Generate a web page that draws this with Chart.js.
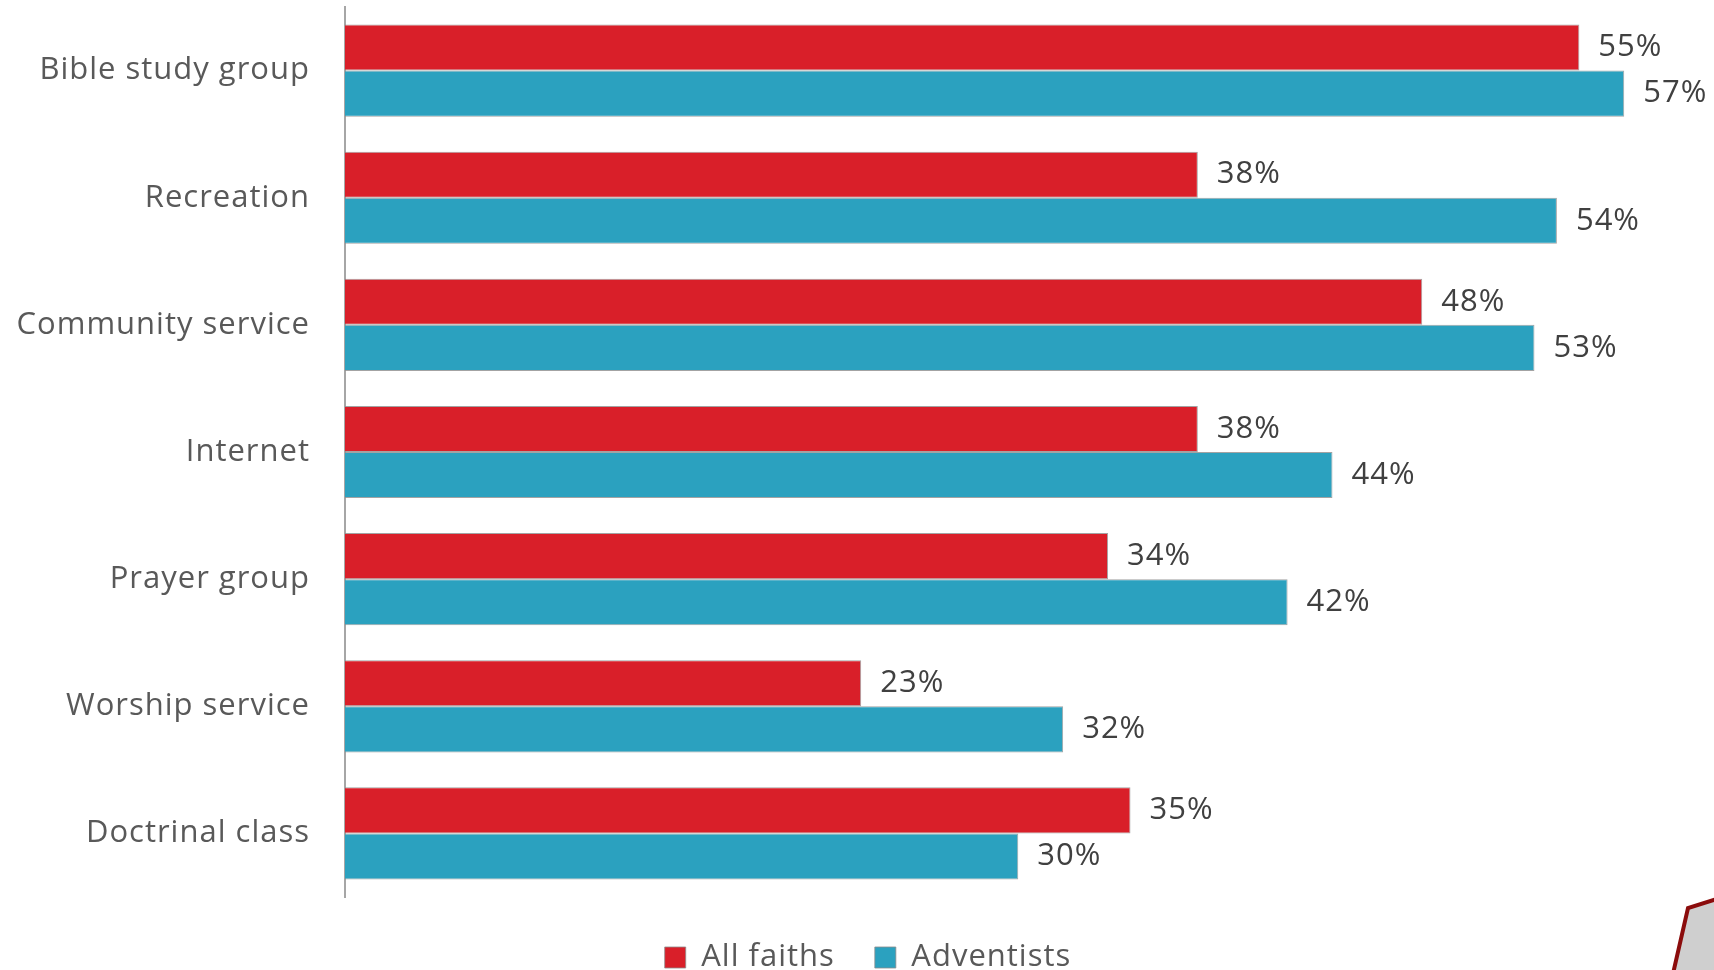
<!DOCTYPE html>
<html>
<head>
<meta charset="utf-8">
<script src="https://cdn.jsdelivr.net/npm/chart.js@4/dist/chart.umd.min.js"></script>
<style>
  html, body { margin: 0; padding: 0; background: #fff; overflow: hidden; }
  #wrap { position: relative; width: 1714px; height: 995px; }
</style>
</head>
<body>
<div id="wrap"><canvas id="chart"></canvas></div>
<script>
// chart data
const categories = ['Bible study group', 'Recreation', 'Community service', 'Internet', 'Prayer group', 'Worship service', 'Doctrinal class'];
const allFaiths = [55, 38, 48, 38, 34, 23, 35];
const adventists = [57, 54, 53, 44, 42, 32, 30];
const seriesNames = ['All faiths', 'Adventists'];

const FONT = "'Open Sans', 'DejaVu Sans', sans-serif";

// canvas letter spacing (reset by chart on resize, so set it every pass)
const spacing = {
  id: 'spacing',
  beforeUpdate(chart) { chart.ctx.letterSpacing = '1px'; },
  beforeDraw(chart) { chart.ctx.letterSpacing = '1px'; }
};

// legend sits a little right of and below where chart.js puts it
const legendShift = {
  id: 'legendShift',
  afterLayout(chart) {
    const lg = chart.legend;
    lg.left += 11;
    lg.right += 11;
    lg.top += 5;
    lg.bottom += 5;
  }
};

// value labels at the end of each bar
const valueLabels = {
  id: 'valueLabels',
  afterDatasetsDraw(chart) {
    const ctx = chart.ctx;
    ctx.save();
    ctx.font = '31px ' + FONT;
    ctx.fillStyle = '#404040';
    ctx.textAlign = 'left';
    ctx.textBaseline = 'middle';
    chart.data.datasets.forEach((ds, i) => {
      chart.getDatasetMeta(i).data.forEach((bar, j) => {
        ctx.fillText(ds.data[j] + '%', bar.x + 19, bar.y);
      });
    });
    ctx.restore();
  }
};

// slide corner decoration, bottom right
const corner = {
  id: 'corner',
  afterDraw(chart) {
    const ctx = chart.ctx;
    ctx.save();
    ctx.beginPath();
    ctx.moveTo(1720, 898);
    ctx.lineTo(1688, 908);
    ctx.lineTo(1667, 1000);
    ctx.lineTo(1720, 1000);
    ctx.closePath();
    ctx.fillStyle = '#cfcfcf';
    ctx.fill();
    ctx.beginPath();
    ctx.moveTo(1720, 898);
    ctx.lineTo(1688, 908);
    ctx.lineTo(1667, 1000);
    ctx.strokeStyle = '#8b0c0c';
    ctx.lineWidth = 4;
    ctx.stroke();
    ctx.restore();
  }
};

new Chart(document.getElementById('chart'), {
  type: 'bar',
  data: {
    labels: categories,
    datasets: [
      {
        label: seriesNames[0],
        data: allFaiths,
        backgroundColor: '#d91f29',
        borderColor: 'rgba(140,140,140,0.8)',
        borderWidth: 1,
        barPercentage: 1,
        categoryPercentage: 0.725
      },
      {
        label: seriesNames[1],
        data: adventists,
        backgroundColor: '#2ba1bf',
        borderColor: 'rgba(140,140,140,0.8)',
        borderWidth: 1,
        barPercentage: 1,
        categoryPercentage: 0.725
      }
    ]
  },
  options: {
    indexAxis: 'y',
    responsive: true,
    maintainAspectRatio: false,
    animation: false,
    layout: { padding: { top: 7, left: 0, right: 0, bottom: 17 } },
    scales: {
      x: {
        display: false,
        min: 0,
        max: 61
      },
      y: {
        grid: { display: false, drawTicks: false },
        border: { display: true, color: '#a6a6a6', width: 2 },
        ticks: {
          padding: 35,
          color: '#595959',
          font: { family: FONT, size: 31 }
        },
        afterFit(scale) {
          scale.width = 345;
          scale.paddingTop = 0;
          scale.paddingBottom = 0;
        }
      }
    },
    plugins: {
      legend: {
        position: 'bottom',
        labels: {
          boxWidth: 21,
          boxHeight: 21,
          padding: 40,
          color: '#595959',
          font: { family: FONT, size: 31 }
        }
      },
      tooltip: { enabled: false }
    }
  },
  plugins: [spacing, legendShift, valueLabels, corner]
});
</script>
</body>
</html>
